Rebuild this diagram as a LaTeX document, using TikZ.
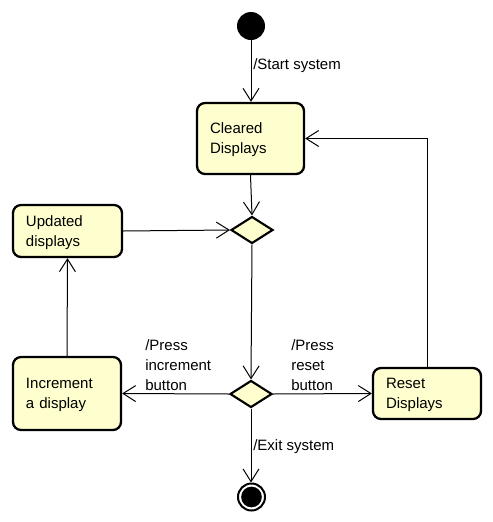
\documentclass[tikz,border=0pt]{standalone}
\usepackage{fontspec}
\setmainfont{Liberation Sans}
\usetikzlibrary{arrows.meta,shapes.geometric}
\definecolor{umlfill}{HTML}{FEFECE}
\tikzset{
  statebox/.style={draw=black, fill=umlfill, line width=1.7pt, rounded corners=6pt,
    align=left, inner xsep=9.75pt, inner ysep=0pt, font=\fontsize{11.25}{15}\selectfont,
    execute at begin node={\rule{0pt}{10.5pt}}},
  choice/.style={draw=black, fill=umlfill, line width=1.6pt, diamond, inner sep=0pt,
    minimum width=31.5pt, minimum height=20.25pt},
  flow/.style={line width=0.75pt, -{Straight Barb[length=9.5pt,width=12pt,line width=0.75pt]}},
  lbl/.style={inner sep=0pt, align=left, font=\fontsize{11.25}{15}\selectfont}
}
\begin{document}
\begin{tikzpicture}[x=0.75pt,y=-0.75pt]
\useasboundingbox (0,0) rectangle (493,522);
% start
\node[circle, fill=black, inner sep=0pt, minimum size=21pt] (start) at (251,26) {};
% states
\node[statebox, minimum width=80.25pt, minimum height=53.25pt, text width=60.75pt] (cleared) at (250.5,138.5) {Cleared\\Displays};
\node[statebox, minimum width=81.75pt, minimum height=39pt, text width=62.25pt] (updated) at (67.5,231) {Updated\\displays};
\node[statebox, minimum width=81pt, minimum height=54.75pt, text width=61.5pt] (increment) at (67,393.5) {Increment\\a display};
\node[statebox, minimum width=81pt, minimum height=38.25pt, text width=61.5pt] (reset) at (427,393.5) {Reset\\Displays};
% decisions
\node[choice] (d1) at (252,230) {};
\node[choice] (d2) at (251,394) {};
% end
\node[circle, draw=black, line width=1.5pt, fill=white, inner sep=0pt, minimum size=20.25pt] (final) at (251.5,497) {};
\node[circle, fill=black, inner sep=0pt, minimum size=15.5pt] (finalin) at (final.center) {};
% connectors
\draw[flow] (start) -- (start |- cleared.north);
\draw[flow] (cleared.south) -- (d1.north);
\draw[flow] (updated.east) -- (d1.west);
\draw[flow] (d1.south) -- (d2.north);
\draw[flow] (d2.west) -- (increment.east);
\draw[flow] (d2.east) -- (reset.west);
\draw[flow] (d2.south) -- (d2.south |- final.north);
\draw[flow] (reset.north) |- (cleared.east);
\draw[flow] (increment.north) -- (updated.south);
% labels
\node[lbl, anchor=west] (lstart) at (253,66) {/Start system};
\node[lbl, anchor=west] (linc) at (145,365.5) {/Press\\increment\\button};
\node[lbl, anchor=west] (lreset) at (291,365.5) {/Press\\reset\\button};
\node[lbl, anchor=west] (lexit) at (253,447) {/Exit system};
\end{tikzpicture}
\end{document}
